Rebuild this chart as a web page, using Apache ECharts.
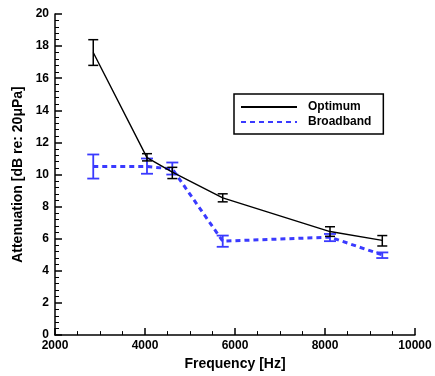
<!DOCTYPE html>
<html>
<head>
<meta charset="utf-8">
<script src="https://cdn.jsdelivr.net/npm/echarts@6/dist/echarts.min.js"></script>
<style>html,body{margin:0;padding:0;background:#fff}#c{width:435px;height:376px}</style>
</head>
<body>
<div id="c"></div>
<script>
// Data
var freq = [2850, 4044, 4607, 5727, 8111, 9273];
var optimum = [17.6, 11.05, 10.15, 8.55, 6.45, 5.9];
var optimumLow = [16.8, 10.85, 9.75, 8.3, 6.15, 5.55];
var optimumHigh = [18.4, 11.3, 10.45, 8.8, 6.75, 6.2];
var broadband = [10.5, 10.5, 10.35, 5.85, 6.1, 5.0];
var broadbandLow = [9.75, 10.05, 10.0, 5.5, 5.85, 4.8];
var broadbandHigh = [11.25, 11.0, 10.75, 6.2, 6.3, 5.15];
var seriesNames = ['Optimum', 'Broadband'];

var blue = '#3a3aff';
function pairs(xs, ys){ return xs.map(function(x,i){return [x, ys[i]];}); }
function errData(xs, lo, hi){ return xs.map(function(x,i){return [x, lo[i], hi[i]];}); }
function errRender(color, cap, lw){
  return function(params, api){
    var x = api.value(0);
    var p1 = api.coord([x, api.value(1)]);
    var p2 = api.coord([x, api.value(2)]);
    var st = {stroke: color, lineWidth: lw, fill: null};
    return {type:'group', children:[
      {type:'line', shape:{x1:p1[0], y1:p1[1], x2:p2[0], y2:p2[1]}, style: st},
      {type:'line', shape:{x1:p1[0]-cap, y1:p1[1], x2:p1[0]+cap, y2:p1[1]}, style: st},
      {type:'line', shape:{x1:p2[0]-cap, y1:p2[1], x2:p2[0]+cap, y2:p2[1]}, style: st}
    ]};
  };
}

var chart = echarts.init(document.getElementById('c'));
var font = 'Liberation Sans, Arial, sans-serif';
chart.setOption({
  animation: false,
  grid: {left: 55, right: 20, top: 14, bottom: 36},
  legend: {
    data: seriesNames.map(function(n){return {name:n};}),
    orient: 'vertical', left: 234, top: 94,
    width: 145,
    padding: [7, 12, 6, 6],
    itemGap: 3, itemWidth: 56, itemHeight: 12,
    borderColor: '#000', borderWidth: 1.5, borderRadius: 0,
    itemStyle: {opacity: 0},
    textStyle: {fontFamily: font, fontWeight: 'bold', fontSize: 12, color: '#000', padding: [0, 0, 0, 6]},
    selectedMode: false
  },
  xAxis: {
    type: 'value', min: 2000, max: 10000, interval: 2000,
    name: 'Frequency [Hz]', nameLocation: 'middle', nameGap: 15,
    nameTextStyle: {fontFamily: font, fontWeight: 'bold', fontSize: 14, color: '#000'},
    axisLine: {lineStyle: {color: '#000', width: 1.5}},
    axisTick: {inside: true, length: 7, lineStyle: {color: '#000', width: 1.5}},
    minorTick: {show: true, splitNumber: 4, length: 4, lineStyle: {color: '#000', width: 1}},
    axisLabel: {fontFamily: font, fontWeight: 'bold', fontSize: 12, color: '#000', margin: 5,
      formatter: function(v){ return String(v); }},
    splitLine: {show: false}
  },
  yAxis: {
    type: 'value', min: 0, max: 20, interval: 2,
    name: 'Attenuation [dB re: 20μPa]', nameLocation: 'middle', nameGap: 24,
    nameTextStyle: {fontFamily: font, fontWeight: 'bold', fontSize: 14, color: '#000'},
    axisLine: {lineStyle: {color: '#000', width: 1.5}},
    axisTick: {inside: true, length: 7, lineStyle: {color: '#000', width: 1.5}},
    minorTick: {show: true, splitNumber: 5, length: 4, lineStyle: {color: '#000', width: 1}},
    axisLabel: {fontFamily: font, fontWeight: 'bold', fontSize: 12, color: '#000', margin: 6},
    splitLine: {show: false}
  },
  series: [
    {name: 'Optimum', type: 'line', data: pairs(freq, optimum), symbol: 'none',
     lineStyle: {color: '#000', width: 1.4}, itemStyle: {color: '#000'}, z: 3},
    {name: 'Broadband', type: 'line', data: pairs(freq, broadband), symbol: 'none',
     lineStyle: {color: blue, width: 3, type: [5, 4]}, itemStyle: {color: blue}, z: 2},
    {name: 'OptimumErr', type: 'custom', data: errData(freq, optimumLow, optimumHigh),
     renderItem: errRender('#000', 5, 1.5), z: 4},
    {name: 'BroadbandErr', type: 'custom', data: errData(freq, broadbandLow, broadbandHigh),
     renderItem: errRender(blue, 6, 1.8), z: 3}
  ]
});
</script>
</body>
</html>
